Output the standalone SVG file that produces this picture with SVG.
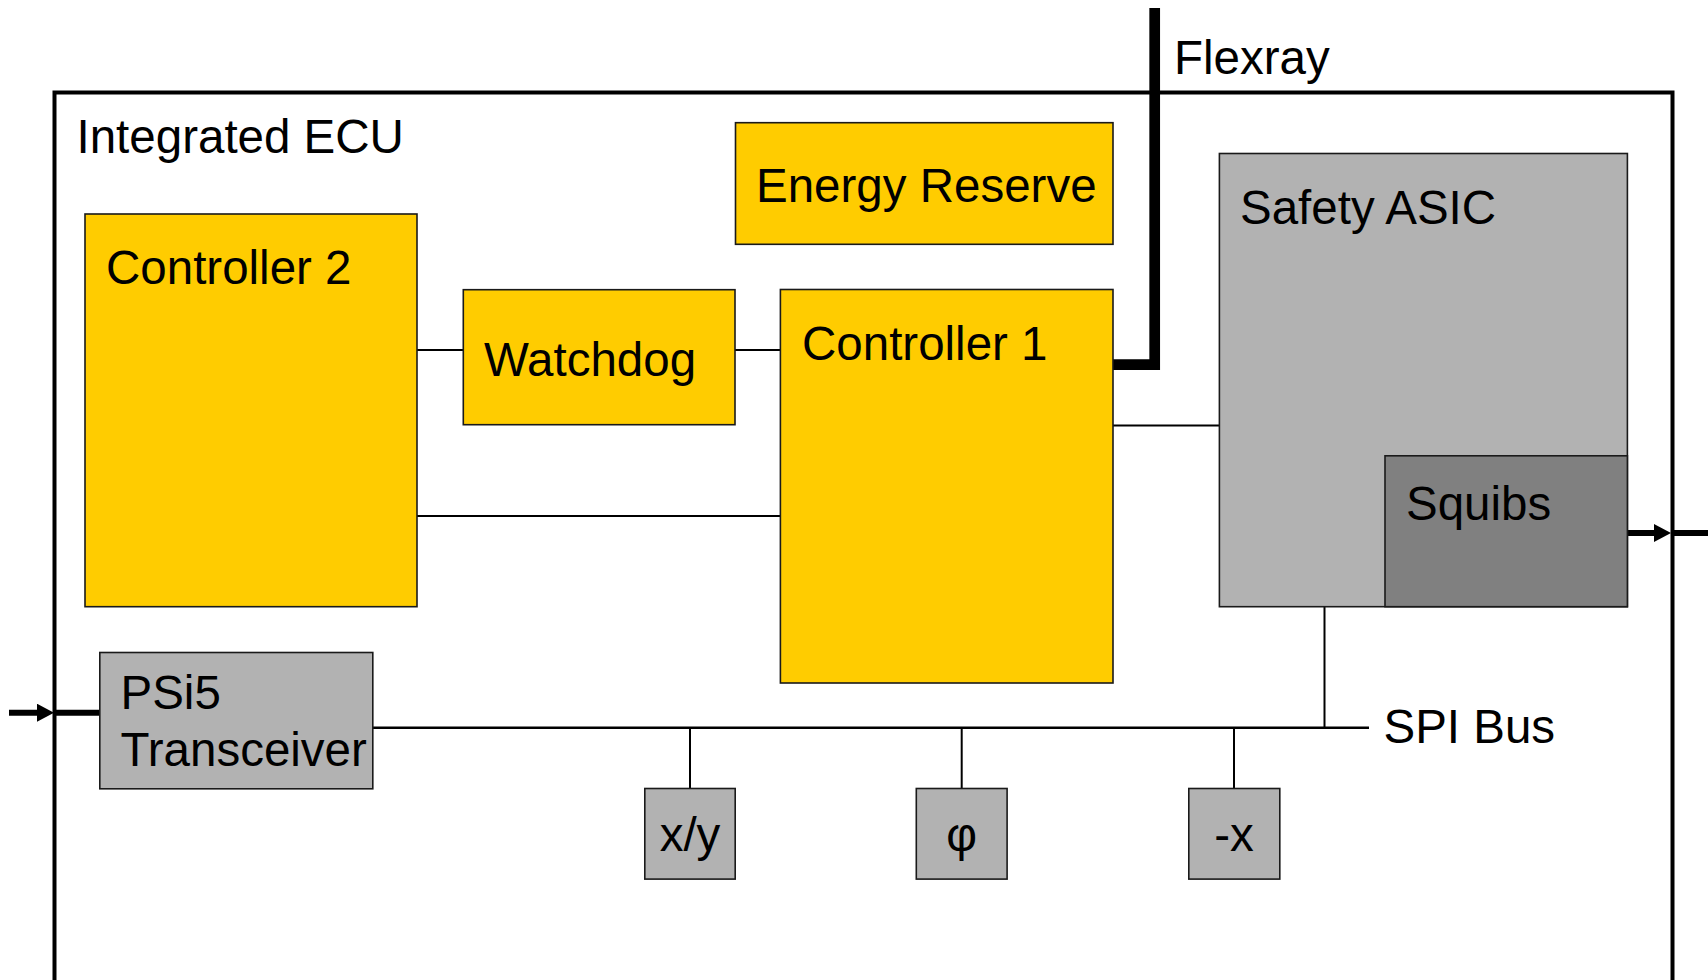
<svg xmlns="http://www.w3.org/2000/svg" width="1708" height="980" viewBox="0 0 1708 980">
  <style>
    text { font-family: "Liberation Sans", Arial, sans-serif; font-size: 47.5px; fill: #000; }
    .mid { text-anchor: middle; }
    .box { stroke: #1a1a1a; stroke-width: 1.6; }
    .yellow { fill: #FFCC00; }
    .grey { fill: #B2B2B2; }
    .dark { fill: #808080; }
    .wire { stroke: #000; stroke-width: 2; fill: none; }
    .bus { stroke: #000; stroke-width: 2.4; fill: none; }
    .io { stroke: #000; stroke-width: 6; fill: none; }
  </style>
  <defs>
    <marker id="arrow" viewBox="0 0 17 18" refX="7" refY="9" markerWidth="17" markerHeight="18" orient="auto" markerUnits="userSpaceOnUse">
      <path d="M0,0 L17,9 L0,18 z" fill="#000"/>
    </marker>
  </defs>

  <rect width="1708" height="980" fill="#fff"/>

  <!-- ECU housing -->
  <g id="ecu">
    <rect x="54.5" y="92.5" width="1618" height="920" fill="none" stroke="#000" stroke-width="4"/>
    <text x="76.5" y="153">Integrated ECU</text>
  </g>

  <!-- connectors -->
  <g id="connectors">
    <line class="wire" x1="417" y1="350" x2="463" y2="350"/>
    <line class="wire" x1="735" y1="350" x2="780" y2="350"/>
    <line class="wire" x1="417" y1="516" x2="780" y2="516"/>
    <line class="wire" x1="1113" y1="425.5" x2="1219" y2="425.5"/>
    <!-- SPI bus -->
    <line class="bus" x1="372" y1="727.7" x2="1369" y2="727.7"/>
    <line class="wire" x1="1324.5" y1="607" x2="1324.5" y2="727.7"/>
    <line class="wire" x1="690" y1="727.7" x2="690" y2="788.5"/>
    <line class="wire" x1="961.7" y1="727.7" x2="961.7" y2="788.5"/>
    <line class="wire" x1="1234" y1="727.7" x2="1234" y2="788.5"/>
    <!-- Flexray -->
    <path d="M1113,364.7 H1154.7 V8" fill="none" stroke="#000" stroke-width="10.7" stroke-linejoin="miter"/>
    <!-- sensor input -->
    <line class="io" x1="9" y1="712.7" x2="44" y2="712.7" marker-end="url(#arrow)"/>
    <line class="io" x1="54" y1="712.7" x2="100" y2="712.7"/>
    <!-- squib output -->
    <line class="io" x1="1627" y1="533" x2="1661" y2="533" marker-end="url(#arrow)"/>
    <line class="io" x1="1672" y1="533" x2="1708" y2="533"/>
  </g>

  <text x="1174" y="74">Flexray</text>
  <text x="1383.5" y="743">SPI Bus</text>

  <g id="energy-reserve">
    <rect class="box yellow" x="735.5" y="122.7" width="377.5" height="121.6"/>
    <text x="756" y="202">Energy Reserve</text>
  </g>

  <g id="controller-2">
    <rect class="box yellow" x="85" y="214" width="332" height="392.7"/>
    <text x="106" y="284">Controller 2</text>
  </g>

  <g id="watchdog">
    <rect class="box yellow" x="463.3" y="289.7" width="271.7" height="135"/>
    <text x="484" y="376">Watchdog</text>
  </g>

  <g id="controller-1">
    <rect class="box yellow" x="780.4" y="289.5" width="332.6" height="393.5"/>
    <text x="802" y="360">Controller 1</text>
  </g>

  <g id="safety-asic">
    <rect class="box grey" x="1219.4" y="153.5" width="408" height="453.2"/>
    <text x="1240" y="224">Safety ASIC</text>
  </g>

  <g id="squibs">
    <rect class="box dark" x="1385" y="455.8" width="242.4" height="150.9"/>
    <text x="1406" y="520">Squibs</text>
  </g>

  <g id="psi5-transceiver">
    <rect class="box grey" x="99.8" y="652.5" width="273" height="136.3"/>
    <text x="120.5" y="709">PSi5</text>
    <text x="120.5" y="766">Transceiver</text>
  </g>

  <g id="sensor-xy">
    <rect class="box grey" x="644.8" y="788.5" width="90.4" height="90.6"/>
    <text class="mid" x="690" y="851">x/y</text>
  </g>

  <g id="sensor-phi">
    <rect class="box grey" x="916.3" y="788.5" width="90.8" height="90.6"/>
    <text class="mid" x="961.7" y="851">φ</text>
  </g>

  <g id="sensor-minus-x">
    <rect class="box grey" x="1188.8" y="788.5" width="91" height="90.6"/>
    <text class="mid" x="1234" y="851">-x</text>
  </g>
</svg>
